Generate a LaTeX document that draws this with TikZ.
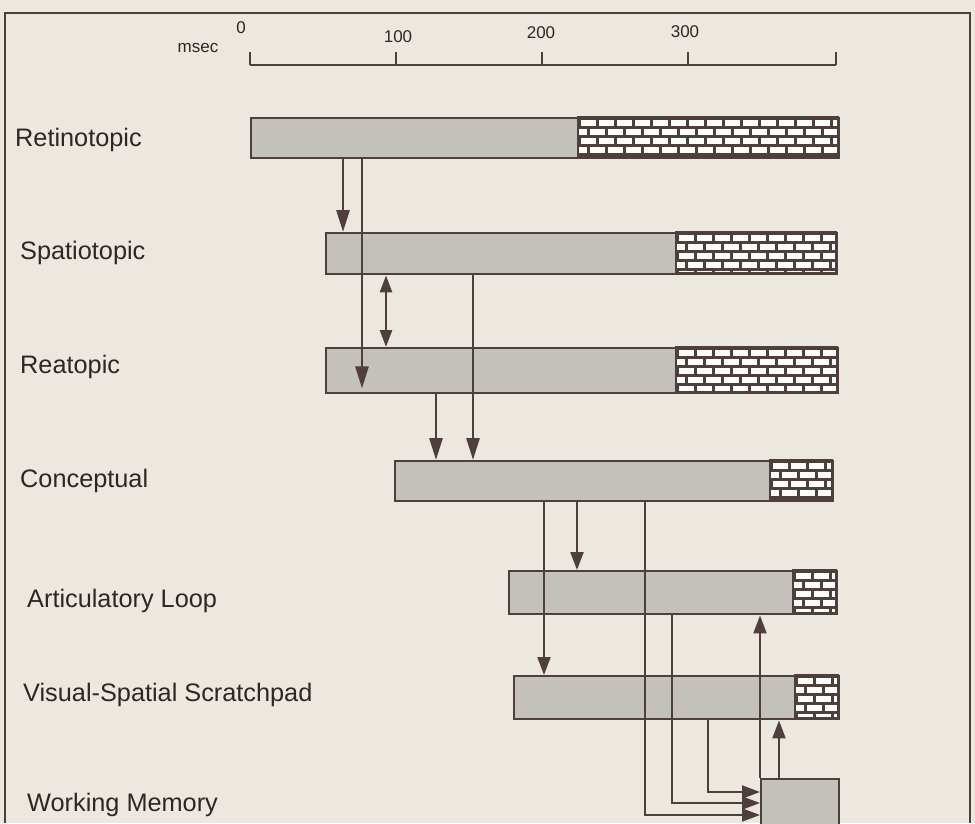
\documentclass[tikz,border=0pt]{standalone}
\usepackage{fontspec}
\setsansfont{Liberation Sans}
\usetikzlibrary{arrows.meta}

\definecolor{paper}{RGB}{236,232,224}
\definecolor{ink}{RGB}{78,62,60}
\definecolor{stip}{RGB}{196,193,188}

% brick pattern for the right part of a bar: x1 y1 x2 y2
\newcommand{\brickwall}[4]{%
  \begin{scope}
    \clip (#1,#2) rectangle (#3,#4);
    \fill[ink] (#1,#2) rectangle (#3,#4);
    \foreach \r in {0,...,4} {
      \foreach \c in {0,...,15} {
        \pgfmathsetmacro{\bx}{#1+2.5+\c*18-mod(\r,2)*9}
        \pgfmathsetmacro{\by}{#2+2.5+\r*9}
        \fill[white!92!paper] (\bx,\by) rectangle ++(15,6);
      }
    }
  \end{scope}
  \draw[ink, line width=2.4pt] (#1,#2) rectangle (#3,#4);}

\begin{document}
\begin{tikzpicture}[
  x=1pt, y=-1pt,
  font=\sffamily,
  bar/.style={draw=ink, line width=2.4pt, fill=stip, anchor=north west, inner sep=0pt},
  lbl/.style={anchor=west, inner sep=0pt, text=ink!60!black, font=\sffamily\fontsize{25.3}{30}\selectfont},
  num/.style={inner sep=0pt, text=ink!60!black, font=\sffamily\fontsize{17}{20}\selectfont},
  edge/.style={draw=ink, line width=2.7pt, -{Triangle[length=22pt,width=13pt]}},
  thin edge/.style={draw=ink, line width=2.1pt, -{Triangle[length=18pt,width=13pt]}}
]
\fill[paper] (0,0) rectangle (975,823);
\useasboundingbox (0,0) rectangle (975,823);
\draw[ink, line width=2.4pt] (5,823) -- (5,13) -- (970,13) -- (970,823);

% time axis
\draw[ink, line width=2.4pt] (250,65) -- (836,65);
\foreach \t/\x in {0/250, 100/396, 200/542, 300/688, 400/836}
  \draw[ink, line width=2.4pt] (\x,65) -- (\x,52);
\node[num] (t0) at (241,28) {0};
\node[num] (t1) at (398,37) {100};
\node[num] (t2) at (541,33) {200};
\node[num] (t3) at (685,32) {300};
\node[num] (ms) at (198,48) {msec};

% rows
\node[lbl] (lret) at (15,140) {Retinotopic};
\node[lbl] (lspa) at (20,253) {Spatiotopic};
\node[lbl] (lrea) at (20,367) {Reatopic};
\node[lbl] (lcon) at (20,481) {Conceptual};
\node[lbl] (lart) at (27,601) {Articulatory Loop};
\node[lbl] (lvis) at (23,695) {Visual-Spatial Scratchpad};
\node[lbl] (lwm)  at (27,805) {Working Memory};

\node[bar, minimum width=588pt, minimum height=40pt] (ret) at (250,117) {};
\node[bar, minimum width=511pt, minimum height=41pt] (spa) at (325,232) {};
\node[bar, minimum width=512pt, minimum height=45pt] (rea) at (325,347) {};
\node[bar, minimum width=438pt, minimum height=40pt] (con) at (394,460) {};
\node[bar, minimum width=328pt, minimum height=43pt] (art) at (508,570) {};
\node[bar, minimum width=325pt, minimum height=43pt] (vis) at (513,675) {};
\node[bar, minimum width=78pt, minimum height=60pt] (wm) at (760,778) {};

\brickwall{578}{117}{838}{157}
\brickwall{676}{232}{836}{273}
\brickwall{676}{347}{837}{392}
\brickwall{770}{460}{832}{500}
\brickwall{793}{570}{836}{613}
\brickwall{795}{675}{838}{718}

% flow between stores
\draw[edge] (ret.south -| 343,0) -- (spa.north -| 343,0);
\draw[edge] (ret.south -| 362,0) -- ([yshift=6pt]rea.south -| 362,0);
\draw[edge, {Triangle[length=17pt,width=12pt]}-{Triangle[length=17pt,width=12pt]}] (spa.south -| 386,0) -- (rea.north -| 386,0);
\draw[edge] (rea.south -| 436,0) -- (con.north -| 436,0);
\draw[edge] (spa.south -| 473,0) -- (con.north -| 473,0);
\draw[thin edge] (con.south -| 544,0) -- (vis.north -| 544,0);
\draw[thin edge] (con.south -| 577,0) -- (art.north -| 577,0);
\draw[thin edge] (con.south -| 645,0) |- (wm.west |- 0,815);
\draw[thin edge] (art.south -| 672,0) |- (wm.west |- 0,803);
\draw[thin edge] (vis.south -| 708,0) |- (wm.west |- 0,792);
\draw[thin edge] (wm.north west) -- (art.south -| wm.north west);
\draw[thin edge] (wm.north -| 779,0) -- (vis.south -| 779,0);
\end{tikzpicture}
\end{document}
